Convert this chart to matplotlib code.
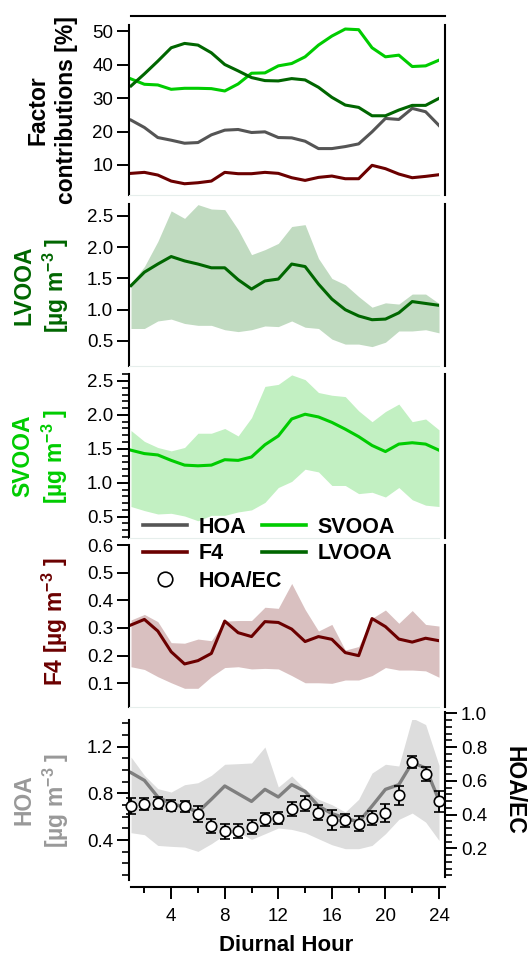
import matplotlib
matplotlib.use('Agg')
import matplotlib.pyplot as plt
from matplotlib.ticker import MultipleLocator, FixedLocator, FormatStrFormatter
from matplotlib.lines import Line2D

plt.rcParams['font.family'] = ['Liberation Sans', 'DejaVu Sans']
plt.rcParams['mathtext.fontset'] = 'custom'
plt.rcParams['mathtext.rm'] = 'Liberation Sans'
plt.rcParams['mathtext.bf'] = 'Liberation Sans:bold'
plt.rcParams['mathtext.default'] = 'bf'

# ---------------- data ----------------
hours = list(range(1, 25))

# factor contributions [%]
hoa_pct = [23.4, 21.2, 18.2, 17.4, 16.5, 16.7, 19.0, 20.4, 20.6, 19.7, 19.9, 18.2,
           18.1, 17.1, 14.9, 14.9, 15.5, 16.3, 19.9, 23.9, 23.6, 26.9, 25.9, 21.8]
svooa_pct = [35.7, 34.1, 33.9, 32.6, 32.9, 32.9, 32.8, 32.1, 34.2, 37.4, 37.5, 39.6,
             40.3, 42.3, 45.8, 48.5, 50.6, 50.4, 45.0, 42.3, 42.8, 39.4, 39.6, 41.3]
lvooa_pct = [33.6, 37.2, 41.0, 45.0, 46.3, 45.8, 43.5, 40.0, 38.1, 36.1, 35.2, 35.1,
             35.8, 35.4, 33.2, 30.2, 27.9, 27.2, 24.7, 24.7, 26.4, 27.8, 27.8, 29.9]
f4_pct = [7.5, 7.8, 7.0, 5.2, 4.4, 4.7, 5.2, 7.8, 7.4, 7.4, 7.8, 7.5,
          6.2, 5.4, 6.3, 6.7, 5.9, 5.9, 9.9, 8.9, 7.3, 6.2, 6.6, 7.1]

# LVOOA [ug m-3]
lvooa = [1.385, 1.60, 1.73, 1.85, 1.78, 1.73, 1.67, 1.67, 1.48, 1.33, 1.46, 1.49,
         1.73, 1.69, 1.41, 1.17, 1.00, 0.90, 0.84, 0.85, 0.95, 1.13, 1.10, 1.07]
lvooa_hi = [1.42, 1.69, 2.09, 2.58, 2.46, 2.68, 2.61, 2.60, 2.28, 1.88, 1.96, 2.06,
            2.33, 2.36, 1.82, 1.50, 1.40, 1.21, 1.04, 1.11, 1.09, 1.25, 1.25, 1.10]
lvooa_lo = [0.70, 0.70, 0.82, 0.85, 0.78, 0.75, 0.75, 0.68, 0.65, 0.68, 0.74, 0.73,
            0.82, 0.72, 0.70, 0.53, 0.45, 0.45, 0.41, 0.48, 0.66, 0.66, 0.68, 0.63]

# SVOOA [ug m-3]
svooa = [1.48, 1.43, 1.41, 1.33, 1.26, 1.25, 1.26, 1.34, 1.33, 1.38, 1.56, 1.69,
         1.94, 2.01, 1.97, 1.89, 1.79, 1.68, 1.55, 1.46, 1.57, 1.59, 1.57, 1.48]
svooa_hi = [1.77, 1.61, 1.52, 1.47, 1.52, 1.73, 1.73, 1.80, 1.69, 1.96, 2.42, 2.45,
            2.59, 2.52, 2.33, 2.29, 2.27, 2.06, 1.90, 2.05, 2.16, 1.90, 1.94, 1.78]
svooa_lo = [0.65, 0.59, 0.54, 0.55, 0.51, 0.44, 0.52, 0.52, 0.57, 0.60, 0.71, 0.93,
            1.02, 1.20, 1.16, 0.96, 0.96, 0.84, 0.86, 0.79, 0.93, 0.75, 0.67, 0.65]

# F4 [ug m-3]
f4 = [0.311, 0.331, 0.289, 0.214, 0.170, 0.182, 0.208, 0.325, 0.283, 0.269, 0.323, 0.320,
      0.296, 0.251, 0.269, 0.259, 0.211, 0.200, 0.334, 0.305, 0.260, 0.249, 0.263, 0.254]
f4_hi = [0.329, 0.349, 0.323, 0.247, 0.245, 0.260, 0.254, 0.325, 0.327, 0.327, 0.375, 0.371,
         0.461, 0.367, 0.289, 0.313, 0.220, 0.233, 0.335, 0.365, 0.317, 0.363, 0.313, 0.307]
f4_lo = [0.160, 0.150, 0.124, 0.102, 0.082, 0.082, 0.124, 0.157, 0.160, 0.152, 0.154, 0.152,
         0.128, 0.102, 0.102, 0.100, 0.112, 0.112, 0.128, 0.157, 0.148, 0.148, 0.145, 0.122]

# HOA [ug m-3]
hoa = [0.977, 0.911, 0.769, 0.711, 0.683, 0.640, 0.749, 0.863, 0.797, 0.731, 0.834, 0.769,
       0.874, 0.817, 0.691, 0.626, 0.589, 0.554, 0.691, 0.834, 0.874, 1.063, 1.017, 0.740]
hoa_hi = [1.111, 0.954, 0.840, 0.811, 0.874, 0.891, 0.954, 1.049, 1.054, 1.060, 1.197, 0.854,
          0.949, 0.834, 0.749, 0.703, 0.640, 0.749, 0.974, 1.049, 1.034, 1.446, 1.389, 1.040]
hoa_lo = [0.463, 0.446, 0.354, 0.346, 0.340, 0.303, 0.369, 0.446, 0.469, 0.406, 0.454, 0.503,
          0.491, 0.463, 0.411, 0.360, 0.326, 0.326, 0.354, 0.454, 0.577, 0.631, 0.554, 0.397]

# HOA/EC ratio
hoa_ec = [0.450, 0.465, 0.469, 0.452, 0.450, 0.406, 0.333, 0.302, 0.304, 0.327, 0.373, 0.381,
          0.436, 0.465, 0.412, 0.367, 0.367, 0.347, 0.381, 0.410, 0.515, 0.712, 0.639, 0.479]
hoa_ec_err = [0.048, 0.036, 0.035, 0.033, 0.032, 0.047, 0.043, 0.045, 0.041, 0.042, 0.039, 0.036,
              0.042, 0.046, 0.045, 0.058, 0.037, 0.043, 0.043, 0.054, 0.056, 0.036, 0.042, 0.061]

# ---------------- style ----------------
c_hoa_top = '#555555'
c_hoa = '#7f7f7f'
c_sv = '#00cc00'
c_lv = '#006600'
c_f4 = '#6b0000'
f_hoa = '#dddddd'
f_sv = '#c2f0c2'
f_lv = '#c1dbc1'
f_f4 = '#d9c0c0'

W, H = 528, 956
fig = plt.figure(figsize=(W / 100, H / 100), dpi=100)


def box(top, bottom, left=129, right=439):
    return [left / W, 1 - bottom / H, (right - left) / W, (bottom - top) / H]


ax1 = fig.add_axes(box(25, 195))
ax2 = fig.add_axes(box(204, 366), sharex=ax1)
ax3 = fig.add_axes(box(374, 538), sharex=ax1)
ax4 = fig.add_axes(box(545, 707), sharex=ax1)
ax5 = fig.add_axes(box(720, 880), sharex=ax1)
ax5r = fig.add_axes(box(712, 877), sharex=ax1)
ax5r.patch.set_visible(False)

LW = 2.2
TICK_FS = 13.5
LAB_FS = 16.5


def style(ax, right=True):
    ax.spines['left'].set_linewidth(1.5)
    ax.spines['top'].set_visible(False)
    ax.spines['bottom'].set_color('#e6eeec')
    ax.spines['bottom'].set_linewidth(0.8)
    if right:
        ax.spines['right'].set_position(('outward', 4.3))
        ax.spines['right'].set_linewidth(1.5)
    else:
        ax.spines['right'].set_visible(False)
    ax.tick_params(axis='y', which='major', direction='out', length=8.5, width=1.4,
                   labelsize=TICK_FS, pad=3, right=False)
    ax.tick_params(axis='y', which='minor', direction='out', length=5, width=1.2, right=False)
    ax.tick_params(axis='x', which='both', bottom=False, top=False, labelbottom=False)


for a in (ax1, ax2, ax3, ax4):
    style(a)
style(ax5, right=False)

ax1.set_xlim(0.85, 24.0)

# ---- panel 1 ----
ax1.plot(hours, hoa_pct, color=c_hoa_top, lw=LW)
ax1.plot(hours, svooa_pct, color=c_sv, lw=LW)
ax1.plot(hours, lvooa_pct, color=c_lv, lw=LW)
ax1.plot(hours, f4_pct, color=c_f4, lw=LW)
ax1.set_ylim(1.04, 51.8)
ax1.yaxis.set_major_locator(FixedLocator([10, 20, 30, 40, 50]))
ax1.spines['top'].set_visible(True)
ax1.spines['top'].set_color('black')
ax1.spines['top'].set_linewidth(1.5)
ax1.spines['top'].set_position(('outward', 6.5))
ax1.spines['top'].set_bounds(1.0, 24.45)

# ---- panel 2 ----
ax2.fill_between(hours, lvooa_lo, lvooa_hi, color=f_lv, lw=0)
ax2.plot(hours, lvooa, color=c_lv, lw=LW)
ax2.set_ylim(0.1, 2.69)
ax2.yaxis.set_major_locator(FixedLocator([0.5, 1.0, 1.5, 2.0, 2.5]))
ax2.yaxis.set_major_formatter(FormatStrFormatter('%.1f'))

# ---- panel 3 ----
ax3.fill_between(hours, svooa_lo, svooa_hi, color=f_sv, lw=0)
ax3.plot(hours, svooa, color=c_sv, lw=LW)
ax3.set_ylim(0.186, 2.603)
ax3.yaxis.set_major_locator(FixedLocator([0.5, 1.0, 1.5, 2.0, 2.5]))
ax3.yaxis.set_minor_locator(MultipleLocator(0.1))
ax3.yaxis.set_major_formatter(FormatStrFormatter('%.1f'))

# ---- panel 4 ----
ax4.fill_between(hours, f4_lo, f4_hi, color=f_f4, lw=0)
ax4.plot(hours, f4, color=c_f4, lw=LW)
ax4.set_ylim(0.0144, 0.6)
ax4.yaxis.set_major_locator(FixedLocator([0.1, 0.2, 0.3, 0.4, 0.5, 0.6]))
ax4.yaxis.set_major_formatter(FormatStrFormatter('%.1f'))

# ---- panel 5 ----
ax5.fill_between(hours, hoa_lo, hoa_hi, color=f_hoa, lw=0)
ax5.plot(hours, hoa, color=c_hoa, lw=2.4)
ax5.set_ylim(0.058, 1.428)
ax5.yaxis.set_major_locator(FixedLocator([0.4, 0.8, 1.2]))
ax5.yaxis.set_minor_locator(MultipleLocator(0.1))
ax5.yaxis.set_major_formatter(FormatStrFormatter('%.1f'))
ax5.spines['bottom'].set_color('black')
ax5.spines['bottom'].set_linewidth(1.5)
ax5.spines['bottom'].set_position(('outward', 5))
ax5.spines['bottom'].set_bounds(1.0, 24.45)
ax5.xaxis.set_major_locator(FixedLocator([4, 8, 12, 16, 20, 24]))
ax5.xaxis.set_minor_locator(FixedLocator([2, 6, 10, 14, 18, 22]))
ax5.tick_params(axis='x', which='major', bottom=True, labelbottom=True, direction='out',
                length=8.5, width=1.4, labelsize=TICK_FS, pad=7)
ax5.tick_params(axis='x', which='minor', bottom=True, direction='out', length=4, width=1.4)

ax5r.errorbar(hours, hoa_ec, yerr=hoa_ec_err, fmt='o', ms=7.5, mfc='white', mec='black',
              mew=1.2, ecolor='black', elinewidth=1.4, capsize=3.4, capthick=1.4,
              clip_on=False, zorder=5)
ax5r.set_ylim(0.031, 1.008)
for s in ('left', 'top', 'bottom'):
    ax5r.spines[s].set_visible(False)
ax5r.spines['right'].set_position(('outward', 4.3))
ax5r.spines['right'].set_linewidth(1.5)
ax5r.yaxis.tick_right()
ax5r.yaxis.set_major_locator(FixedLocator([0.2, 0.4, 0.6, 0.8, 1.0]))
ax5r.yaxis.set_minor_locator(MultipleLocator(0.04))
ax5r.yaxis.set_major_formatter(FormatStrFormatter('%.1f'))
ax5r.tick_params(axis='y', which='major', direction='out', length=8.5, width=1.4,
                 labelsize=TICK_FS, pad=3, left=False)
ax5r.tick_params(axis='y', which='minor', direction='out', length=5, width=1.2, left=False)
ax5r.tick_params(axis='x', which='both', bottom=False, top=False, labelbottom=False)


# ---- labels ----
def ftext(x, y, s, va='center', **kw):
    fig.text(x / W, 1 - y / H, s, ha='center', va=va, fontweight='bold',
             fontsize=LAB_FS, multialignment='center', **kw)


unit = '[µg m$^{-3}$ ]'
ftext(52, 110, 'Factor\ncontributions [%]', rotation=90, color='black', linespacing=1.3)
ftext(42, 285, 'LVOOA\n' + unit, rotation=90, color=c_lv, linespacing=1.25)
ftext(41, 456, 'SVOOA\n' + unit, rotation=90, color=c_sv, linespacing=1.25)
ftext(55, 622, 'F4 ' + unit, rotation=90, color=c_f4)
ftext(42, 800, 'HOA\n' + unit, rotation=90, color='#999999', linespacing=1.25)
ftext(514, 790, 'HOA/EC', rotation=-90, color='black')
fig.text(286 / W, 1 - 951 / H, 'Diurnal Hour', ha='center', va='baseline',
         fontweight='bold', fontsize=16)

# ---- legend ----
h_hoa = Line2D([], [], color=c_hoa_top, lw=2.6)
h_f4 = Line2D([], [], color=c_f4, lw=2.6)
h_sv = Line2D([], [], color=c_sv, lw=2.6)
h_lv = Line2D([], [], color=c_lv, lw=2.6)
h_ec = Line2D([], [], ls='none', marker='o', ms=10.5, mfc='white', mec='black', mew=1.2)

leg_kw = dict(frameon=False, borderpad=0, borderaxespad=0, handlelength=2.05,
              handletextpad=0.55, labelspacing=0.25, columnspacing=0.7,
              prop={'weight': 'bold', 'size': 15.5}, loc='upper left')
leg1 = fig.legend([h_hoa, h_f4, h_sv, h_lv], ['HOA', 'F4', 'SVOOA', 'LVOOA'], ncol=2,
                  bbox_to_anchor=(143 / W, 1 - 517 / H), **leg_kw)
leg2 = fig.legend([h_ec], ['HOA/EC'], bbox_to_anchor=(143 / W, 1 - 571 / H), **leg_kw)

fig.savefig('out.png', dpi=100)
